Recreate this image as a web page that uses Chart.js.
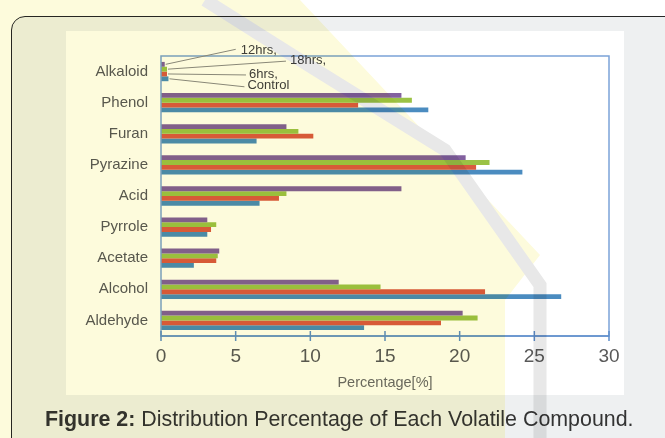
<!DOCTYPE html>
<html>
<head>
<meta charset="utf-8">
<script src="https://cdn.jsdelivr.net/npm/chart.js@4"></script>
<style>
  html, body { margin:0; padding:0; width:665px; height:438px; overflow:hidden; background:#ffffff; }
  #card { position:absolute; left:11px; top:16px; width:720px; height:500px; border:1.5px solid #262626; border-radius:14px; background:#eef0f1; box-sizing:border-box; }
  #paper { position:absolute; left:66px; top:31px; width:558px; height:364px; background:#ffffff; }
  #wrap { position:absolute; left:0; top:0; width:665px; height:438px; }
  #caption { position:absolute; left:45px; top:407px; font-family:"Liberation Sans", Arial, sans-serif; font-size:21.4px; color:#333333; white-space:nowrap; }
  #caption b { font-weight:bold; }
  #wm { position:absolute; left:0; top:0; width:665px; height:438px; mix-blend-mode:multiply; pointer-events:none; }
</style>
</head>
<body>
<div id="card"></div>
<div id="paper"></div>
<div id="wrap"><canvas id="c" width="665" height="438"></canvas></div>
<div id="caption"><b>Figure 2:</b> Distribution Percentage of Each Volatile Compound.</div>
<svg id="wm" width="665" height="438" viewBox="0 0 665 438">
  <polygon points="0,0 300,0 540,255 505,300 505,438 0,438" fill="rgb(253,251,220)"/>
  <polyline points="205,0 300,60 445,150 540,285 540,438" fill="none" stroke="rgb(232,232,232)" stroke-width="13"/>
</svg>
<script>
const categories = ['Alkaloid','Phenol','Furan','Pyrazine','Acid','Pyrrole','Acetate','Alcohol','Aldehyde'];
const seriesNames = ['12hrs,','18hrs,','6hrs,','Control'];
const hrs12   = [0.25, 16.1, 8.4, 20.4, 16.1, 3.1, 3.9, 11.9, 20.2];
const hrs18   = [0.4, 16.8, 9.2, 22.0, 8.4, 3.7, 3.8, 14.7, 21.2];
const hrs6    = [0.4, 13.2, 10.2, 21.1, 7.9, 3.35, 3.7, 21.7, 18.75];
const control = [0.5, 17.9, 6.4, 24.2, 6.6, 3.1, 2.2, 26.8, 13.6];
const xTicks  = [0, 5, 10, 15, 20, 25, 30];

const colors = ['#82609f', '#9bc245', '#d95b3f', '#4b8cc0'];
const FONT = '"Liberation Sans", Arial, sans-serif';

// leader-line label offsets for the first category (line end relative to bar end, text offset)
const labelOffsets = [
  {lx: 70, ly: -15, tx: 5, ty: 1},
  {lx: 118, ly: -8, tx: 4, ty: -1},
  {lx: 78, ly: 1, tx: 3, ty: -1},
  {lx: 75, ly: 8, tx: 3, ty: -1}
];

const framePlugin = {
  id: 'frame',
  afterDraw(chart) {
    const {ctx, chartArea: a} = chart;
    const xs = chart.scales.x;
    ctx.save();
    ctx.strokeStyle = '#7ba3d8';
    ctx.lineWidth = 1.5;
    ctx.strokeRect(a.left, a.top, a.right - a.left, a.bottom - a.top);
    ctx.strokeStyle = '#5f8fcc';
    ctx.beginPath();
    ctx.moveTo(a.left, a.bottom); ctx.lineTo(a.right, a.bottom);
    xTicks.forEach(v => {
      const px = xs.getPixelForValue(v);
      ctx.moveTo(px, a.bottom - 5); ctx.lineTo(px, a.bottom + 5);
    });
    ctx.stroke();
    // data labels with leader lines for the first category
    ctx.font = '13px ' + FONT;
    ctx.fillStyle = '#404040';
    ctx.textBaseline = 'middle';
    ctx.textAlign = 'left';
    chart.data.datasets.forEach((ds, i) => {
      const bar = chart.getDatasetMeta(i).data[0];
      const o = labelOffsets[i];
      const x0 = bar.x + 1, y0 = bar.y;
      ctx.strokeStyle = '#8a8a8a';
      ctx.lineWidth = 1;
      ctx.beginPath();
      ctx.moveTo(x0, y0);
      ctx.lineTo(x0 + o.lx, y0 + o.ly);
      ctx.stroke();
      ctx.fillText(seriesNames[i], x0 + o.lx + o.tx, y0 + o.ly + o.ty);
    });
    ctx.restore();
  }
};

new Chart(document.getElementById('c'), {
  type: 'bar',
  data: {
    labels: categories,
    datasets: [hrs12, hrs18, hrs6, control].map((d, i) => ({
      label: seriesNames[i],
      data: d,
      backgroundColor: colors[i],
      borderWidth: 0,
      categoryPercentage: 0.62,
      barPercentage: 1.0
    }))
  },
  options: {
    responsive: false,
    animation: false,
    indexAxis: 'y',
    layout: {padding: {top: 56, right: 56, bottom: 43, left: 0}},
    plugins: {legend: {display: false}, tooltip: {enabled: false}},
    scales: {
      x: {
        min: 0, max: 30,
        afterBuildTicks: s => { s.ticks = xTicks.map(v => ({value: v})); },
        ticks: {color: '#595959', padding: 9, font: {size: 19, family: FONT}},
        grid: {display: false, drawTicks: false},
        border: {display: false},
        title: {display: true, text: 'Percentage[%]', color: '#6b6b6b', font: {size: 14.5, family: FONT}, padding: {top: 0, bottom: 3}},
        afterFit: s => { s.height = 59; }
      },
      y: {
        ticks: {color: '#595959', padding: 13, font: {size: 15, family: FONT}},
        grid: {display: false, drawTicks: false},
        border: {display: false},
        afterFit: s => { s.width = 161; }
      }
    }
  },
  plugins: [framePlugin]
});
</script>
</body>
</html>
